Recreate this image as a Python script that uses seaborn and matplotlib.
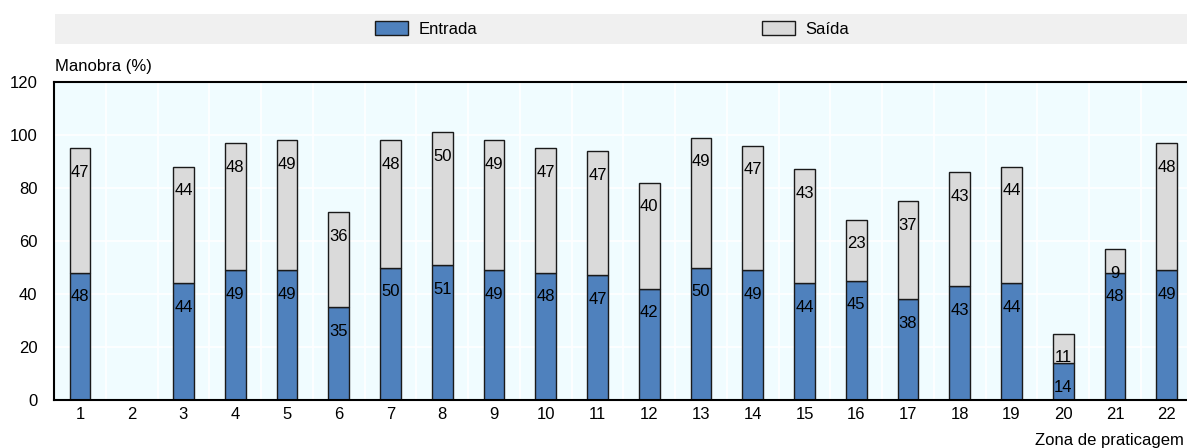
import matplotlib
matplotlib.use("Agg")
import matplotlib.pyplot as plt
from matplotlib.patches import Rectangle, Patch
import numpy as np
import pandas as pd
import seaborn as sns

# dados
zonas = [str(i) for i in range(1, 23)]
entrada = [48, 0, 44, 49, 49, 35, 50, 51, 49, 48, 47, 42, 50, 49, 44, 45, 38, 43, 44, 14, 48, 49]
saida = [47, 0, 44, 48, 49, 36, 48, 50, 49, 47, 47, 40, 49, 47, 43, 23, 37, 43, 44, 11, 9, 48]

cor_entrada = "#4F81BD"
cor_saida = "#DADADA"
cor_fundo = "#F0FCFF"
fs = 12

sns.set_style("white")
plt.rcParams['font.family'] = ['Liberation Sans', 'DejaVu Sans']
plt.rcParams['text.color'] = 'black'
plt.rcParams['xtick.color'] = 'black'
plt.rcParams['ytick.color'] = 'black'

df = pd.DataFrame({"zona": zonas, "entrada": entrada, "saida": saida})

fig = plt.figure(figsize=(11.87, 4.48), dpi=100)
W, H = 1187, 448
ax = fig.add_axes([54 / W, 1 - 400 / H, (W - 54) / W, (400 - 82) / H])
ax.set_facecolor(cor_fundo)

sns.barplot(data=df, x="zona", y="entrada", order=zonas, color=cor_entrada,
            width=0.4, edgecolor="#1a1a1a", linewidth=1, saturation=1, ax=ax)
sns.barplot(data=df, x="zona", y="saida", order=zonas, color=cor_saida,
            width=0.4, edgecolor="#1a1a1a", linewidth=1, saturation=1,
            bottom=df["entrada"].values, ax=ax)

# rótulos dentro das barras
for i, (e, s) in enumerate(zip(entrada, saida)):
    if e > 0:
        ax.annotate(str(e), (i, e), xytext=(0, -12), textcoords="offset points",
                    ha="center", va="top", fontsize=fs, color="black")
    if s > 0:
        ax.annotate(str(s), (i, e + s), xytext=(0, -12), textcoords="offset points",
                    ha="center", va="top", fontsize=fs, color="black")

ax.set_xlim(-0.5, 21.39)
ax.set_ylim(0, 120)
ax.set_yticks(range(0, 121, 20))
ax.set_xlabel("")
ax.set_ylabel("")

# grelha branca
for xb in np.arange(0.5, 22, 1):
    ax.axvline(xb, color="white", lw=1.2, zorder=0)
for yb in range(20, 120, 20):
    ax.axhline(yb, color="white", lw=1.2, zorder=0)

for side in ["left", "bottom", "top"]:
    ax.spines[side].set_visible(True)
    ax.spines[side].set_color("black")
    ax.spines[side].set_linewidth(1.5)
ax.spines["right"].set_visible(False)

ax.tick_params(axis="y", direction="in", length=6, width=1.2, pad=12, labelsize=fs)
ax.tick_params(axis="x", length=0, pad=5, labelsize=fs)

# legenda com fundo cinzento
fig.patches.append(Rectangle((55 / W, 1 - 44 / H), (W - 55) / W, 30 / H,
                             transform=fig.transFigure, facecolor="#F0F0F0",
                             edgecolor="none", zorder=0))
handles = [Patch(facecolor=cor_entrada, edgecolor="#1a1a1a", label="Entrada"),
           Patch(facecolor=cor_saida, edgecolor="#1a1a1a", label="Saída")]
fig.legend(handles=handles, loc="center", bbox_to_anchor=(612 / W, 1 - 29 / H),
           ncol=2, frameon=False, fontsize=fs, handlelength=2.0, handleheight=0.9,
           columnspacing=17.1, handletextpad=0.6)

fig.text(55 / W, 1 - 66 / H, "Manobra (%)", fontsize=fs, ha="left", va="center")
fig.text(1184 / W, 1 - 440 / H, "Zona de praticagem", fontsize=fs, ha="right", va="center")

fig.savefig("out.png", dpi=100)
